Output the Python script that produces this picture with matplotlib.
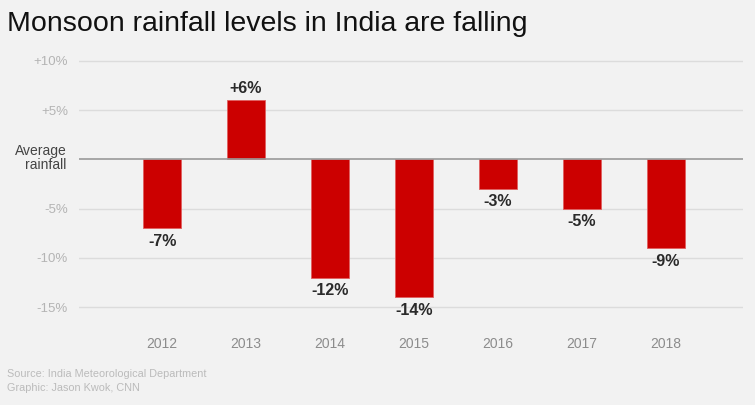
import numpy as np
import matplotlib.pyplot as plt

plt.rcParams['font.family'] = ['Liberation Sans', 'DejaVu Sans']

# Data
years = ['2012', '2013', '2014', '2015', '2016', '2017', '2018']
deviation = [-7, 6, -12, -14, -3, -5, -9]
ytick_vals = [10, 5, -5, -10, -15]
ytick_labels = ['+10%', '+5%', '-5%', '-10%', '-15%']

bg = '#f2f2f2'
red = '#cc0000'

fig = plt.figure(figsize=(7.55, 4.05), dpi=100, facecolor=bg)
ax = fig.add_axes([79 / 755, 1 - 325 / 405, (743 - 79) / 755, (325 - 55) / 405])
ax.set_facecolor(bg)

x = np.arange(len(years))
ax.bar(x, deviation, width=0.45, color=red, edgecolor='#e06060', linewidth=0.6, zorder=3)

ax.set_xlim(-0.99, 6.92)
ax.set_ylim(-16.8, 10.6)

# grid lines
for v in ytick_vals:
    ax.axhline(v, color='#dcdcdc', linewidth=1, zorder=1)
ax.axhline(0, color='#9a9a9a', linewidth=1.2, zorder=4)

ax.set_yticks(ytick_vals)
ax.set_yticklabels(ytick_labels, color='#b4b4b4', fontsize=9.5)
ax.set_xticks(x)
ax.set_xticklabels(years, color='#8c8c8c', fontsize=10)
ax.tick_params(axis='both', length=0)
ax.tick_params(axis='y', pad=8)
ax.tick_params(axis='x', pad=9)
for s in ax.spines.values():
    s.set_visible(False)

ax.text(-1.135, 0.15, 'Average\nrainfall', ha='right', va='center', fontsize=10,
        color='#444444', linespacing=1.05)

# value labels
for xi, v in zip(x, deviation):
    lab = ('+%d%%' % v) if v > 0 else ('%d%%' % v)
    if v > 0:
        ax.text(xi, v + 0.4, lab, ha='center', va='bottom', fontsize=11.5,
                fontweight='bold', color='#2a2a2a', zorder=5)
    else:
        ax.text(xi, v - 0.55, lab, ha='center', va='top', fontsize=11.5,
                fontweight='bold', color='#2a2a2a', zorder=5)

fig.text(7 / 755, 1 - 31 / 405, 'Monsoon rainfall levels in India are falling',
         fontsize=20.5, color='#111111', ha='left', va='baseline')
fig.text(7 / 755, 1 - 377 / 405, 'Source: India Meteorological Department',
         fontsize=7.8, color='#bbbbbb', ha='left', va='baseline')
fig.text(7 / 755, 1 - 391 / 405, 'Graphic: Jason Kwok, CNN',
         fontsize=7.8, color='#bbbbbb', ha='left', va='baseline')

fig.savefig('out.png', dpi=100, facecolor=bg)
